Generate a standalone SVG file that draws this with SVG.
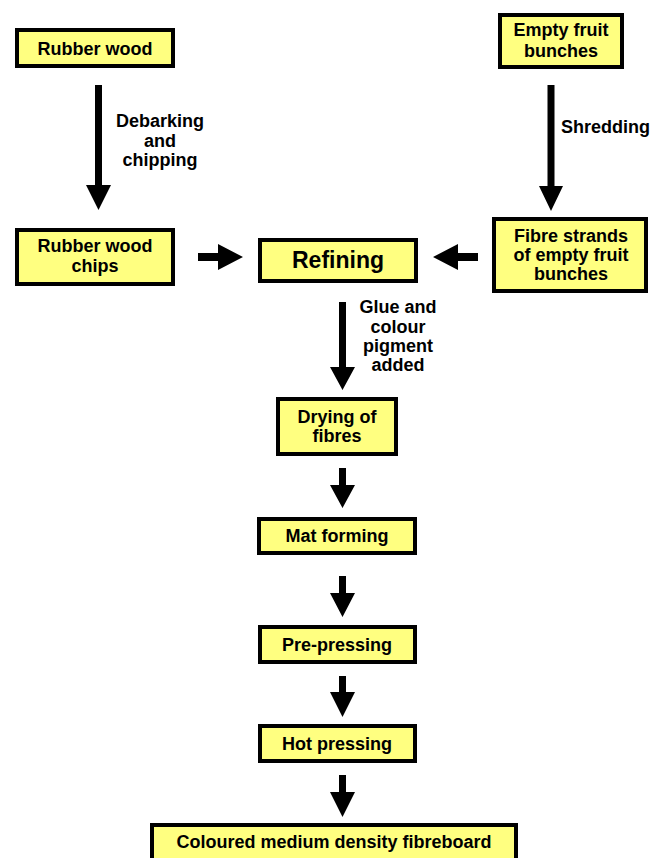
<svg xmlns="http://www.w3.org/2000/svg" width="650" height="858" viewBox="0 0 650 858">
<style>
.box{fill:#ffff80;stroke:#000;stroke-width:4}
.t{font-family:"Liberation Sans",Arial,sans-serif;font-weight:bold;font-size:18px;fill:#000;text-anchor:middle}
.big{font-size:23px}
.arr{fill:#000}
</style>
<rect width="650" height="858" fill="#fff"/>
<g id="rubber-wood"><rect class="box" x="17" y="30" width="156" height="36"/><text class="t" x="95" y="55">Rubber wood</text></g>
<g id="empty-fruit-bunches"><rect class="box" x="500" y="15" width="122" height="52"/><text class="t" x="561" y="36">Empty fruit</text><text class="t" x="561" y="57">bunches</text></g>
<g id="rubber-wood-chips"><rect class="box" x="17" y="230" width="156" height="54"/><text class="t" x="95" y="252">Rubber wood</text><text class="t" x="95" y="272">chips</text></g>
<g id="refining"><rect class="box" x="260" y="240" width="156" height="41"/><text class="t big" x="338" y="268">Refining</text></g>
<g id="fibre-strands"><rect class="box" x="494" y="219" width="152" height="72"/><text class="t" x="571" y="242">Fibre strands</text><text class="t" x="571" y="261">of empty fruit</text><text class="t" x="571" y="280">bunches</text></g>
<g id="drying"><rect class="box" x="278" y="399" width="118" height="55"/><text class="t" x="337" y="423">Drying of</text><text class="t" x="337" y="442">fibres</text></g>
<g id="mat-forming"><rect class="box" x="259" y="519" width="156" height="34"/><text class="t" x="337" y="542">Mat forming</text></g>
<g id="pre-pressing"><rect class="box" x="260" y="627" width="155" height="35"/><text class="t" x="337" y="651">Pre-pressing</text></g>
<g id="hot-pressing"><rect class="box" x="260" y="726" width="155" height="35"/><text class="t" x="337" y="750">Hot pressing</text></g>
<g id="coloured-mdf"><rect class="box" x="152" y="825" width="364" height="40"/><text class="t" x="334" y="848">Coloured medium density fibreboard</text></g>
<g id="connectors" class="arr">
<polygon points="95,85 102,85 102,185 111,185 98.5,210 86,185 95,185"/>
<polygon points="547.5,85 554.5,85 554.5,186 563,186 551,211 539,186 547.5,186"/>
<polygon points="198,253 218,253 218,244 243,257 218,270 218,261 198,261"/>
<polygon points="478,253 458,253 458,244 433,257 458,270 458,261 478,261"/>
<polygon points="339,302 346,302 346,367 355,367 342.5,390 330,367 339,367"/>
<polygon points="339,468 346,468 346,485 355,485 342.5,508 330,485 339,485"/>
<polygon points="339,576 346,576 346,593 355,593 342.5,617 330,593 339,593"/>
<polygon points="339,676 346,676 346,692 355,692 342.5,717 330,692 339,692"/>
<polygon points="339,775 346,775 346,792 355,792 342.5,817 330,792 339,792"/>
</g>
<g id="labels">
<text class="t" x="160" y="127">Debarking</text><text class="t" x="160" y="147">and</text><text class="t" x="160" y="166">chipping</text>
<text class="t" x="561" y="133" style="text-anchor:start">Shredding</text>
<text class="t" x="398" y="313">Glue and</text><text class="t" x="398" y="333">colour</text><text class="t" x="398" y="352">pigment</text><text class="t" x="398" y="371">added</text>
</g>
</svg>
